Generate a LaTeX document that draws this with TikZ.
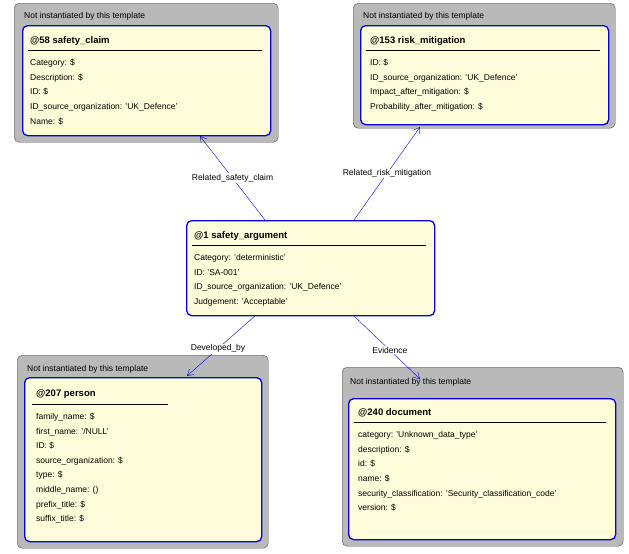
\documentclass[tikz,border=0pt]{standalone}
\usepackage{fontspec}
\setmainfont{Liberation Sans}
\usetikzlibrary{arrows.meta}
\begin{document}
\begin{tikzpicture}[
        x=1pt, y=-1pt,
        outerbox/.style={rectangle, rounded corners=5pt, draw=gray!60!black, fill=gray!55, anchor=north west, inner sep=0pt},
        entitybox/.style={rectangle, rounded corners=5pt, draw=blue!85!black, line width=1.3pt, fill=yellow!15, anchor=north west, inner sep=0pt},
        note/.style={anchor=north west, inner sep=0pt, font=\fontsize{8.5}{10}\selectfont},
        attrs/.style={anchor=north west, inner sep=0pt, align=left, font=\fontsize{8.5}{14.6}\selectfont},
        rel/.style={draw=blue!85!black, -{Straight Barb[length=6pt, width=7pt]}},
        rellabel/.style={fill=white, inner sep=1pt, font=\fontsize{8.5}{10}\selectfont}
    ]
    \useasboundingbox (0,0) rectangle (629,554);
    \newcommand\etitle[1]{{\fontsize{9.5}{10}\selectfont\textbf{#1}}}

    % --- safety claim ---
    \node[outerbox, minimum width=264, minimum height=139] (claimo) at (14,3) {};
    \node[note] at (24,12) {Not instantiated by this template};
    \node[entitybox, minimum width=248, minimum height=110] (claim) at (22,25) {};
    \node[attrs] (claimt) at (30,36) {\etitle{@58 safety\_claim}\\[8pt]
        Category: \$\\ Description: \$\\ ID: \$\\ ID\_source\_organization: 'UK\_Defence'\\ Name: \$};
    \draw (28,50) -- (262,50);

    % --- risk mitigation ---
    \node[outerbox, minimum width=262, minimum height=125] (risko) at (353,3) {};
    \node[note] at (363,12) {Not instantiated by this template};
    \node[entitybox, minimum width=248, minimum height=99] (risk) at (360,25) {};
    \node[attrs] (riskt) at (370,36) {\etitle{@153 risk\_mitigation}\\[8pt]
        ID: \$\\ ID\_source\_organization: 'UK\_Defence'\\ Impact\_after\_mitigation: \$\\ Probability\_after\_mitigation: \$};
    \draw (366,50) -- (600,50);

    % --- safety argument ---
    \node[entitybox, minimum width=248, minimum height=95] (arg) at (186,220) {};
    \node[attrs] (argt) at (194,231) {\etitle{@1 safety\_argument}\\[8pt]
        Category: 'deterministic'\\ ID: 'SA-001'\\ ID\_source\_organization: 'UK\_Defence'\\ Judgement: 'Acceptable'};
    \draw (192,245) -- (426,245);

    % --- person ---
    \node[outerbox, minimum width=251, minimum height=193] (persono) at (17,355) {};
    \node[note] at (27,365) {Not instantiated by this template};
    \node[entitybox, minimum width=237, minimum height=164] (person) at (24,377) {};
    \node[attrs] (persont) at (36,390) {\etitle{@207 person}\\[8pt]
        family\_name: \$\\ first\_name: '/NULL'\\ ID: \$\\ source\_organization: \$\\ type: \$\\ middle\_name: ()\\ prefix\_title: \$\\ suffix\_title: \$};
    \draw (32,404) -- (168,404);

    % --- document ---
    \node[outerbox, minimum width=281, minimum height=179] (doco) at (342,367) {};
    \node[note] at (350,378) {Not instantiated by this template};
    \node[entitybox, minimum width=267, minimum height=141] (doc) at (348,398) {};
    \node[attrs] (doct) at (358,408) {\etitle{@240 document}\\[8pt]
        category: 'Unknown\_data\_type'\\ description: \$\\ id: \$\\ name: \$\\ security\_classification: 'Security\_classification\_code'\\ version: \$};
    \draw (354,422) -- (606,422);

    % --- relations ---
    \coordinate (a1) at (265,220); \coordinate (c1) at (200,136);
    \coordinate (a2) at (354,220); \coordinate (c2) at (420,127);
    \coordinate (a3) at (256,315); \coordinate (c3) at (187,376);
    \coordinate (a4) at (353,315); \coordinate (c4) at (420,379);
    \draw[rel] (a1) -- node[rellabel] {Related\_safety\_claim} (c1);
    \draw[rel] (a2) -- node[rellabel] {Related\_risk\_mitigation} (c2);
    \draw[rel] (a3) -- node[rellabel, pos=0.55] {Developed\_by} (c3);
    \draw[rel] (a4) -- node[rellabel, pos=0.55] {Evidence} (c4);
\end{tikzpicture}
\end{document}
